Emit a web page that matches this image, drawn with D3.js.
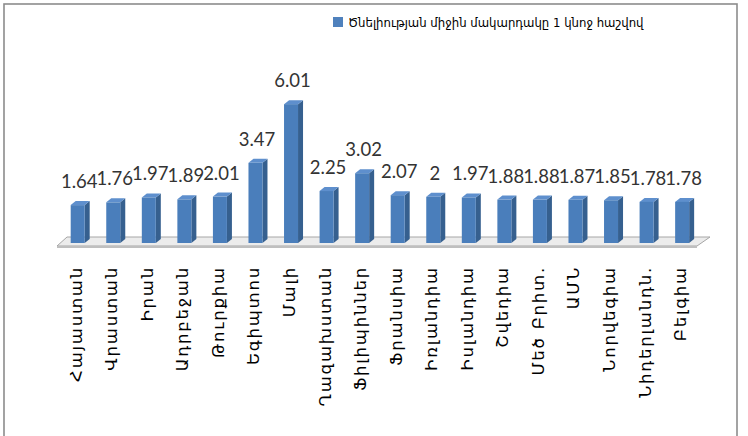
<!DOCTYPE html>
<html>
<head>
<meta charset="utf-8">
<script src="https://cdn.jsdelivr.net/npm/d3@7/dist/d3.min.js"></script>
<style>
  html, body { margin: 0; padding: 0; background: #fff; }
  svg { display: block; }
</style>
</head>
<body>
<svg id="chart" width="748" height="436"></svg>
<script>
// Total fertility rate per woman, by country
const categories = [
  "Հայաստան", "Վրաստան", "Իրան", "Ադրբեջան", "Թուրքիա", "Եգիպտոս",
  "Մալի", "Ղազախստան", "Ֆիլիպիններ", "Ֆրանսիա", "Իռլանդիա", "Իսլանդիա",
  "Շվեդիա", "Մեծ Բրիտ.", "ԱՄՆ", "Նորվեգիա", "Նիդերլանդն.", "Բելգիա"
];
const values = [
  1.64, 1.76, 1.97, 1.89, 2.01, 3.47,
  6.01, 2.25, 3.02, 2.07, 2, 1.97,
  1.88, 1.88, 1.87, 1.85, 1.78, 1.78
];
const seriesName = "Ծնելիության միջին մակարդակը 1 կնոջ հաշվով";
const valueDomain = [0, 7];

const svg = d3.select("#chart");

// chart area border
svg.append("rect")
  .attr("x", 4).attr("y", 4)
  .attr("width", 733).attr("height", 440)
  .attr("fill", "#fff")
  .attr("stroke", "#8c8c8c")
  .attr("stroke-width", 1.6);

// plot geometry
const base = 243;          // y of bar front bottoms
const depthX = 5, depthY = 4;
const barW = 14;

const x = d3.scaleBand()
  .domain(categories)
  .range([57, 697])
  .paddingInner(0).paddingOuter(0);

const y = d3.scaleLinear()
  .domain(valueDomain)
  .range([base, base - 7 * 23.1]);

// 3-D floor
const floor = svg.append("g");
floor.append("path")
  .attr("d", `M57,246 L697,246 L710,237 L67,237 Z`)
  .attr("fill", "#ececec")
  .attr("stroke", "#a6a6a6")
  .attr("stroke-width", 1);
floor.append("path")
  .attr("d", `M57,246 L697,246 L697,248 L57,248 Z`)
  .attr("fill", "#bfbfbf");

const barX = d => x(d) + 13.7;

const data = categories.map((c, i) => ({ c, v: values[i] }));

const bars = svg.append("g").selectAll("g").data(data).join("g");

// side face
bars.append("path")
  .attr("d", d => {
    const x0 = barX(d.c) + barW, yt = y(d.v);
    return `M${x0},${yt} L${x0 + depthX},${yt - depthY} L${x0 + depthX},${base - depthY} L${x0},${base} Z`;
  })
  .attr("fill", "#36608f");

// top face
bars.append("path")
  .attr("d", d => {
    const x0 = barX(d.c), yt = y(d.v);
    return `M${x0},${yt} L${x0 + depthX},${yt - depthY} L${x0 + barW + depthX},${yt - depthY} L${x0 + barW},${yt} Z`;
  })
  .attr("fill", "#5e8fcd");

// front face
bars.append("rect")
  .attr("x", d => barX(d.c))
  .attr("y", d => y(d.v))
  .attr("width", barW)
  .attr("height", d => base - y(d.v))
  .attr("fill", "#4a7ebb");

// value labels
svg.append("g").selectAll("text").data(data).join("text")
  .attr("x", d => barX(d.c) + (barW + depthX) / 2 - 1)
  .attr("y", d => y(d.v) - 17)
  .attr("text-anchor", "middle")
  .attr("font-family", "Lato, 'Open Sans', sans-serif")
  .attr("font-size", 18.5)
  .attr("fill", "#333")
  .text(d => d.v);

// category labels, rotated
svg.append("g").selectAll("text").data(categories).join("text")
  .attr("transform", d => `translate(${barX(d) + 11},266) rotate(-90)`)
  .attr("text-anchor", "end")
  .attr("font-family", "'DejaVu Sans', sans-serif")
  .attr("font-size", 16.5)
  .attr("letter-spacing", 1.8)
  .attr("fill", "#000")
  .text(d => d);

// legend
const legend = svg.append("g");
legend.append("rect")
  .attr("x", 333).attr("y", 17)
  .attr("width", 10).attr("height", 10)
  .attr("fill", "#4f81bd");
legend.append("text")
  .attr("x", 348).attr("y", 27)
  .attr("font-family", "'DejaVu Sans Condensed', 'DejaVu Sans', sans-serif")
  .attr("font-stretch", "condensed")
  .attr("font-size", 13)
  .attr("fill", "#000")
  .text(seriesName);
</script>
</body>
</html>
